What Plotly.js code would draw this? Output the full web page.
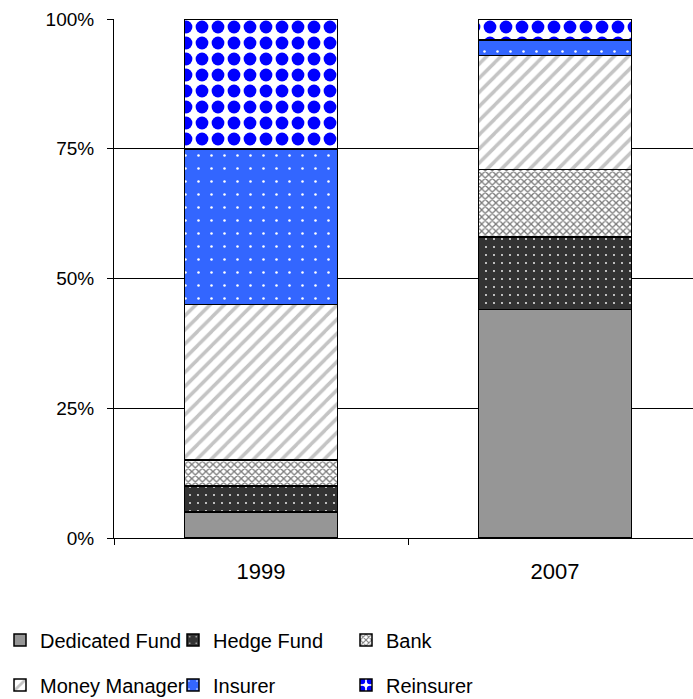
<!DOCTYPE html>
<html>
<head>
<meta charset="utf-8">
<script src="https://cdn.plot.ly/plotly-3.0.1.min.js"></script>
<style>html,body{margin:0;padding:0;overflow:hidden;background:#fff;}</style>
</head>
<body>
<div id="chart" style="width:693px;height:699px;"></div>
<script>
const years = ['1999', '2007'];
const dedicatedFund = [0.05, 0.44];
const hedgeFund = [0.05, 0.14];
const bank = [0.05, 0.13];
const moneyManager = [0.30, 0.22];
const insurer = [0.30, 0.03];
const reinsurer = [0.25, 0.04];
const yTickVals = [0, 0.25, 0.5, 0.75, 1];
const yTickText = ['0%', '25%', '50%', '75%', '100%'];

const lineStyle = {color: '#000', width: 1.5};
function bar(name, vals, marker, legend) {
  return {
    type: 'bar', name: name, x: years, y: vals, width: 0.52,
    marker: Object.assign({line: lineStyle}, marker),
    legend: legend, hoverinfo: 'skip'
  };
}
const traces = [
  bar('Dedicated Fund', dedicatedFund, {color: '#969696'}, 'legend'),
  bar('Hedge Fund', hedgeFund, {color: '#333333', pattern: {shape: '.', bgcolor: '#333333', fgcolor: '#ffffff', size: 8, solidity: 0.04, fillmode: 'replace'}}, 'legend'),
  bar('Bank', bank, {color: '#ffffff', pattern: {shape: 'x', bgcolor: '#ffffff', fgcolor: '#7a7a7a', size: 5, solidity: 0.45, fillmode: 'replace'}}, 'legend'),
  bar('Money Manager', moneyManager, {color: '#ffffff', pattern: {shape: '/', bgcolor: '#ffffff', fgcolor: '#c4c4c4', size: 10, solidity: 0.35, fillmode: 'replace'}}, 'legend2'),
  bar('Insurer', insurer, {color: '#3366ff', pattern: {shape: '.', bgcolor: '#3366ff', fgcolor: '#ffffff', size: 13, solidity: 0.03, fillmode: 'replace'}}, 'legend2'),
  bar('Reinsurer', reinsurer, {color: '#ffffff', pattern: {shape: '.', bgcolor: '#ffffff', fgcolor: '#0000ff', size: 16, solidity: 0.5, fillmode: 'replace'}}, 'legend2')
];

const font = {family: 'Liberation Sans, Arial, sans-serif', color: '#000'};
const legendBase = {
  orientation: 'h', xref: 'container', yref: 'container',
  x: -0.009, xanchor: 'left', yanchor: 'middle',
  entrywidth: 128, entrywidthmode: 'pixels',
  font: Object.assign({size: 20}, font), bgcolor: 'rgba(0,0,0,0)', borderwidth: 0,
  traceorder: 'normal'
};
const layout = {
  width: 693, height: 699,
  margin: {l: 114, r: 0, t: 19, b: 160.5, pad: 0},
  paper_bgcolor: '#fff', plot_bgcolor: '#fff',
  barmode: 'stack',
  font: font,
  showlegend: true,
  xaxis: {
    type: 'category', range: [-0.5, 1.469], showgrid: false, zeroline: false,
    showline: true, linecolor: '#000', linewidth: 1,
    ticks: 'outside', tickson: 'boundaries', ticklen: 6, tickcolor: '#000', tickwidth: 1,
    tickfont: Object.assign({size: 22}, font), ticklabelstandoff: 14
  },
  yaxis: {
    range: [0, 1], tickvals: yTickVals, ticktext: yTickText,
    showgrid: true, gridcolor: '#000', gridwidth: 1, zeroline: false,
    showline: true, linecolor: '#000', linewidth: 1,
    ticks: 'outside', ticklen: 6, tickcolor: '#000', tickwidth: 1,
    tickfont: Object.assign({size: 19}, font), ticklabelstandoff: 9
  },
  legend: Object.assign({}, legendBase, {y: 1 - 640 / 699}),
  legend2: Object.assign({}, legendBase, {y: 1 - 685 / 699})
};
Plotly.newPlot('chart', traces, layout, {displayModeBar: false, staticPlot: true});
</script>
</body>
</html>
